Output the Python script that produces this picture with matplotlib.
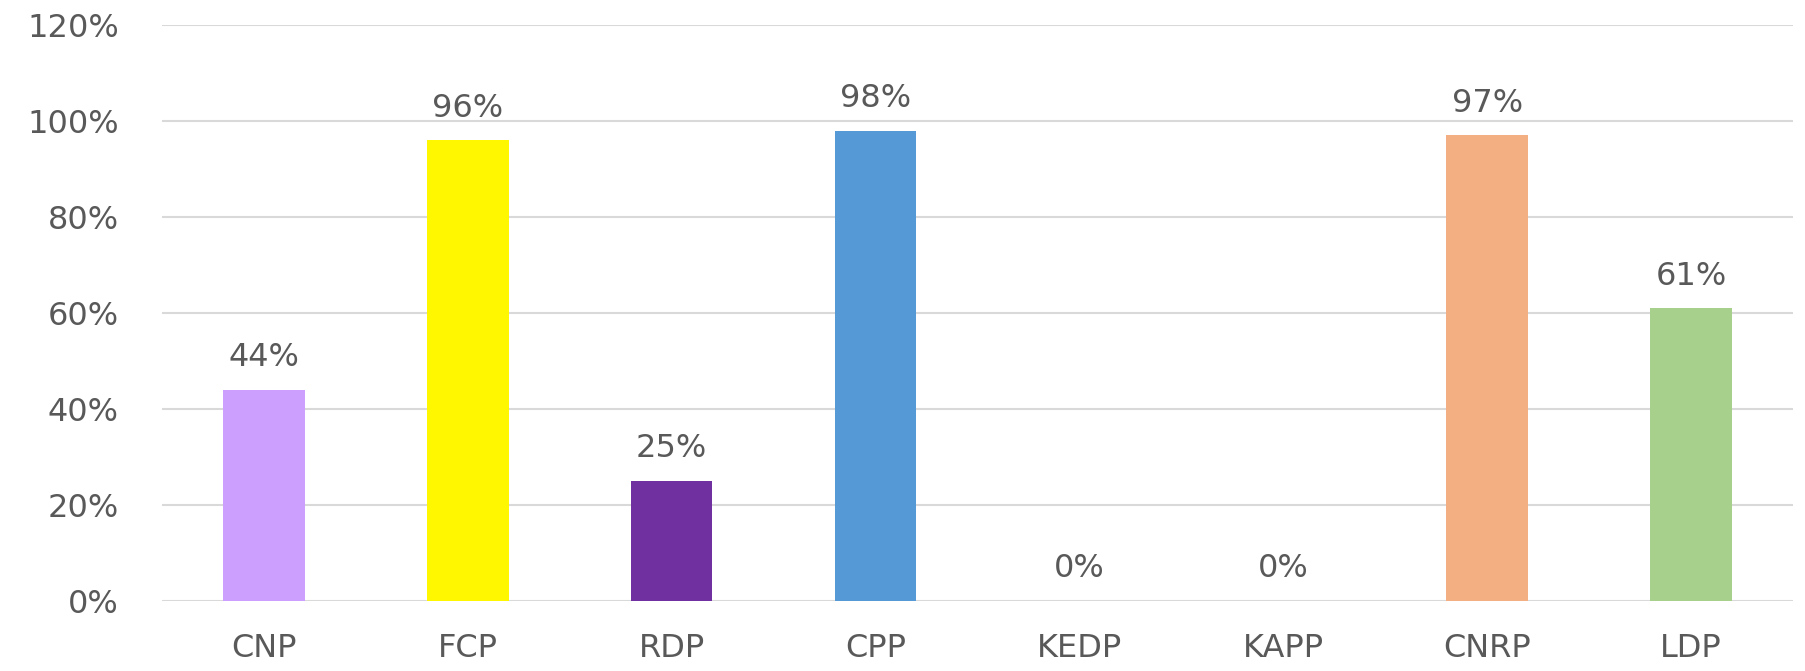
import matplotlib
matplotlib.use("Agg")
import matplotlib.pyplot as plt
from matplotlib.ticker import FuncFormatter

# data
categories = ["CNP", "FCP", "RDP", "CPP", "KEDP", "KAPP", "CNRP", "LDP"]
shares = [0.44, 0.96, 0.25, 0.98, 0.0, 0.0, 0.97, 0.61]
bar_colors = ["#CC9FFF", "#FFF700", "#7030A0", "#559AD7",
              "#A5A5A5", "#FFC000", "#F3AF82", "#A7D08C"]
y_ticks = [0.0, 0.2, 0.4, 0.6, 0.8, 1.0, 1.2]

text_color = "#595959"
grid_color = "#D9D9D9"

fig = plt.figure(figsize=(18.06, 6.71), dpi=100)
ax = fig.add_axes([0.0897, 0.1043, 0.9031, 0.8584])

x = range(len(categories))
bars = ax.bar(x, shares, width=0.40, color=bar_colors, zorder=3)

for xi, v in zip(x, shares):
    ax.annotate(f"{round(v * 100):d}%", (xi, v), xytext=(0, 17),
                textcoords="offset points", ha="center", va="baseline",
                fontsize=23, color=text_color)

ax.set_xlim(-0.5, len(categories) - 0.5)
ax.set_ylim(0, 1.2)
ax.set_yticks(y_ticks)
ax.yaxis.set_major_formatter(FuncFormatter(lambda v, _: f"{round(v * 100):d}%"))
ax.set_xticks(list(x))
ax.set_xticklabels(categories)

ax.grid(axis="y", color=grid_color, linewidth=1.5, zorder=0)
ax.set_axisbelow(True)
for s in ax.spines.values():
    s.set_visible(False)

ax.tick_params(axis="y", length=0, pad=31, labelsize=23, labelcolor=text_color)
ax.tick_params(axis="x", length=0, pad=23, labelsize=23, labelcolor=text_color)

fig.savefig("out.png", dpi=100, facecolor="white")
